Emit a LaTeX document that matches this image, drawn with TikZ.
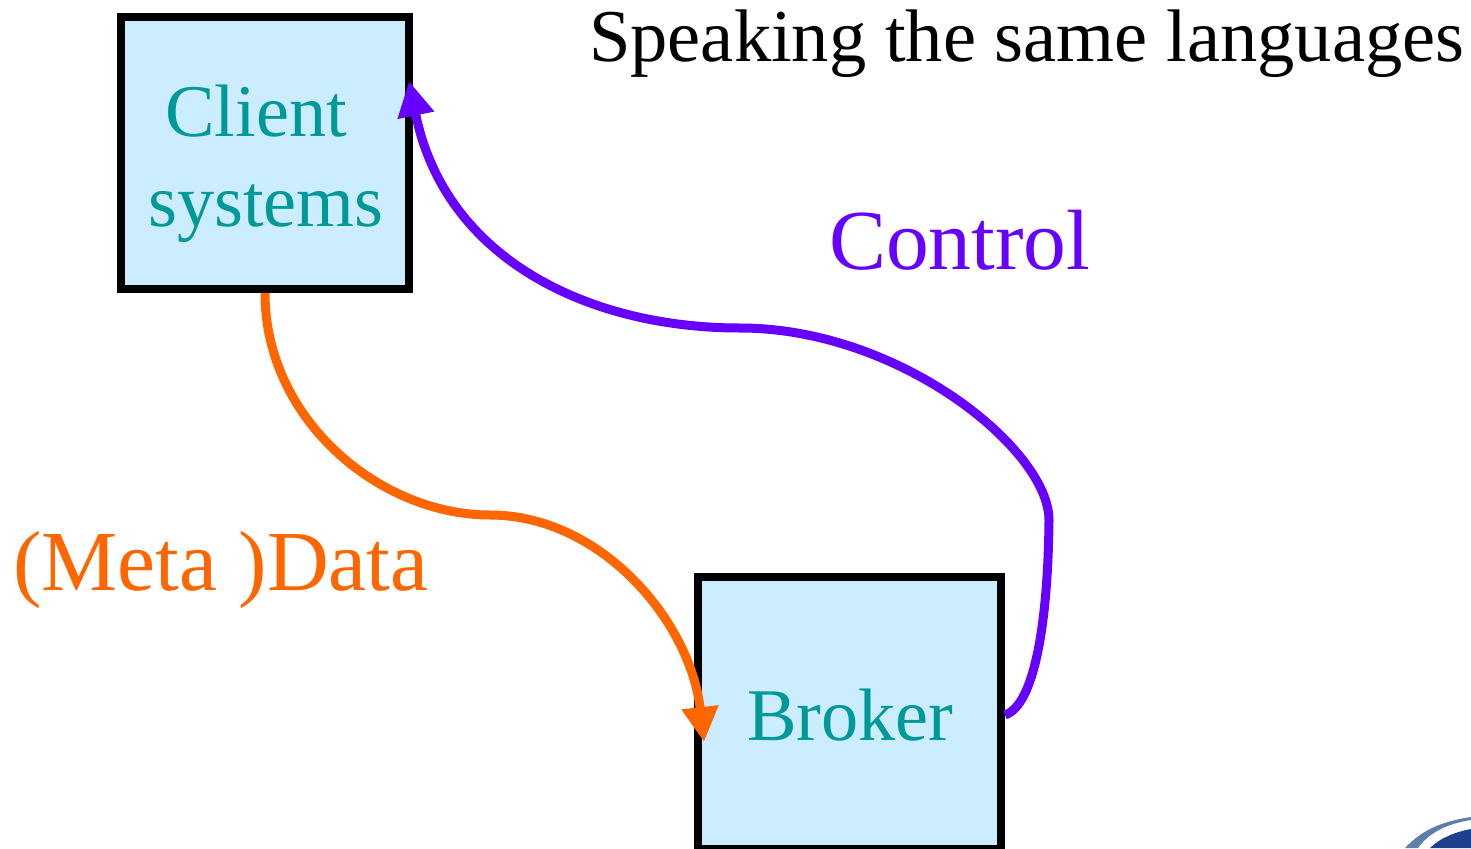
\documentclass[tikz,border=0pt]{standalone}
\usepackage{fontspec}
\setmainfont{Liberation Serif}
\usetikzlibrary{arrows.meta}
\definecolor{boxfill}{HTML}{CCECFF}
\definecolor{tealtext}{HTML}{009999}
\definecolor{ctrl}{HTML}{6600FF}
\definecolor{meta}{HTML}{FF6600}
\definecolor{logoblue}{HTML}{1F3F8F}
\definecolor{logogrey}{HTML}{5F7FA8}
\tikzset{
  sysbox/.style={draw=black,fill=boxfill,line width=8pt,rectangle,inner sep=0pt,text=tealtext,align=center,font=\fontsize{74.3}{90}\selectfont},
  flowlabel/.style={anchor=base west,inner sep=0pt,font=\fontsize{85.5}{90}\selectfont},
  flow/.style={line width=9pt,-{Triangle[length=35pt,width=35pt]}},
}
\begin{document}
\begin{tikzpicture}[x=1pt,y=-1pt]
\useasboundingbox (0,0) rectangle (1471,848);
\node[sysbox,minimum width=288pt,minimum height=272pt] (client) at (265,153)
  {\rule{0pt}{74pt}Client\hspace*{18pt}\\\hspace*{2pt}systems};
\node[sysbox,minimum width=303pt,minimum height=272pt] (broker) at (849.5,713) {\rule{0pt}{55pt}\hspace*{2pt}Broker};
\node[anchor=base west,inner sep=0pt,font=\fontsize{74.5}{90}\selectfont] (title) at (589,62) {Speaking the same languages};
\node[flowlabel,text=ctrl] (control) at (829,269) {Control};
\node[flowlabel,text=meta] (metadata) at (13,590) {(Meta )Data};
\coordinate (ctrlstart) at (1005,715);
\coordinate (ctrltip) at (409,81);
\coordinate (datatip) at (704,742);
\draw[flow,ctrl] (ctrlstart) .. controls (1035,705) and (1048,620) .. (1049,520)
  .. controls (1049,450) and (900,328) .. (740,328)
  .. controls (590,328) and (445,260) .. (ctrltip);
\draw[flow,meta] (client.south) .. controls (265,420) and (380,515) .. (490,515)
  .. controls (600,515) and (690,620) .. (datatip);
% logo fragment, bottom-right corner
\fill[logogrey] (1405,848) .. controls (1420,832) and (1438,822) .. (1471,817) -- (1471,820) .. controls (1445,824) and (1428,834) .. (1418,848) -- cycle;
\fill[logoblue] (1430,848) .. controls (1440,838) and (1455,832) .. (1471,829) -- (1471,848) -- cycle;
\end{tikzpicture}
\end{document}
